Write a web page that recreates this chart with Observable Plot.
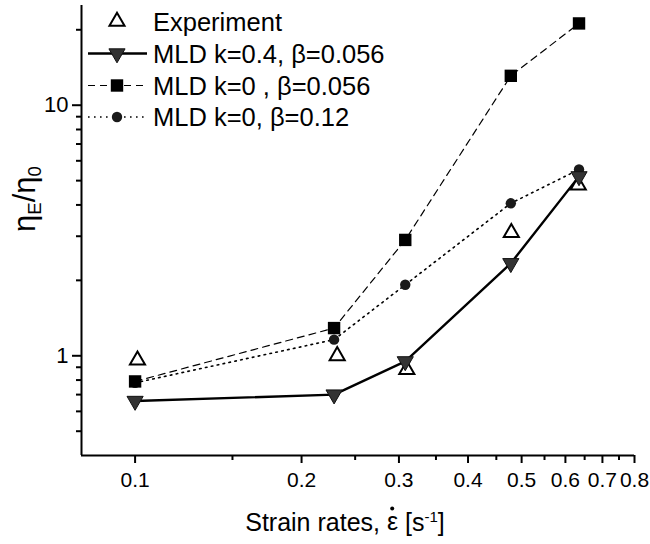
<!DOCTYPE html>
<html><head><meta charset="utf-8">
<script src="https://cdn.jsdelivr.net/npm/d3@7"></script>
<script src="https://cdn.jsdelivr.net/npm/@observablehq/plot@0.6"></script>
<style>
body{margin:0;background:#fff;}
#wrap{position:relative;width:650px;height:544px;font-family:"Liberation Sans",Arial,sans-serif;color:#000;overflow:hidden;}
#ylabel{position:absolute;left:27px;top:199px;transform:translate(-50%,-50%) rotate(-90deg);font-size:31px;white-space:nowrap;line-height:1;}
#ylabel sub{font-size:0.6em;vertical-align:-0.35em;}
#xlabel{position:absolute;left:345px;top:522px;transform:translate(-50%,-50%);font-size:25px;white-space:nowrap;line-height:1;}
#xlabel sup{font-size:0.6em;vertical-align:0.55em;}
.edot{position:relative;display:inline-block;}
.edot::after{content:"";position:absolute;left:50%;top:-0.12em;width:4px;height:4px;margin-left:-2px;border-radius:50%;background:#000;}
#legend{position:absolute;left:0;top:0;}
</style></head>
<body>
<div id="wrap">
  <div id="chart"></div>
  <div id="ylabel">η<sub>E</sub>/η<sub>0</sub></div>
  <div id="xlabel">Strain rates, <span class="edot">ε</span> [s<sup>-1</sup>]</div>
  <svg id="legend" width="650" height="140"></svg>
</div>
<script>
// ---- data ----
const rates      = [0.1, 0.229, 0.308, 0.478, 0.635];
const expRates   = [0.101, 0.232, 0.31, 0.479, 0.633];
const experiment = [0.96, 1.0, 0.88, 3.1, 4.8];
const mldK04     = [0.66, 0.70, 0.95, 2.34, 5.2];
const mldK0b056  = [0.79, 1.29, 2.9, 13.1, 21.2];
const mldK0b012  = [0.78, 1.16, 1.92, 4.06, 5.54];

const xMajor = [0.1, 0.2, 0.3, 0.4, 0.5, 0.6, 0.7, 0.8];
const xMinor = [0.15, 0.25, 0.35, 0.45, 0.55, 0.65, 0.75];
const yMajor = [1, 10];
const yMinor = [0.5, 0.6, 0.7, 0.8, 0.9, 2, 3, 4, 5, 6, 7, 8, 9, 20];

const legendLabels = ["Experiment", "MLD k=0.4, β=0.056", "MLD k=0 , β=0.056", "MLD k=0, β=0.12"];

const rows = (xs, ys) => xs.map((x, i) => ({x, y: ys[i]}));
const dExp = rows(expRates, experiment);
const dK04 = rows(rates, mldK04);
const dB056 = rows(rates, mldK0b056);
const dB012 = rows(rates, mldK0b012);

const chart = Plot.plot({
  width: 650,
  height: 544,
  marginLeft: 81,
  marginRight: 16,
  marginTop: 5,
  marginBottom: 89,
  style: {fontFamily: "'Liberation Sans', Arial, sans-serif", fontSize: "21px", color: "#000", background: "#fff"},
  x: {type: "log", domain: [0.08, 0.8], label: null},
  y: {type: "log", domain: [0.4, 25], label: null},
  marks: [
    Plot.axisX({ticks: xMinor, tickSize: 5, strokeWidth: 2, tickFormat: () => "", label: null}),
    Plot.axisX({ticks: xMajor, tickSize: 8, strokeWidth: 2, tickPadding: 9, tickFormat: d => String(d), fontSize: 21, label: null}),
    Plot.axisY({ticks: yMinor, tickSize: 5, strokeWidth: 2, tickFormat: () => "", label: null}),
    Plot.axisY({ticks: yMajor, tickSize: 9, strokeWidth: 2, tickPadding: 4, tickFormat: d => String(d), fontSize: 22, label: null}),
    Plot.ruleX([0.08], {stroke: "#000", strokeWidth: 2}),
    Plot.ruleY([0.4], {stroke: "#000", strokeWidth: 2}),
    Plot.line(dB056, {x: "x", y: "y", stroke: "#000", strokeWidth: 1.2, strokeDasharray: "7,5"}),
    Plot.line(dB012, {x: "x", y: "y", stroke: "#000", strokeWidth: 1.6, strokeDasharray: "1.6,4.4"}),
    Plot.line(dK04, {x: "x", y: "y", stroke: "#000", strokeWidth: 2.4}),
    Plot.dot(dExp, {x: "x", y: "y", symbol: "triangle", r: 5.6, fill: "#fff", stroke: "#000", strokeWidth: 2}),
    Plot.dot(dB012, {x: "x", y: "y", symbol: "circle", r: 5.2, fill: "#1a1a1a", stroke: "none"}),
    Plot.dot(dB056, {x: "x", y: "y", symbol: "square", r: 7, fill: "#000", stroke: "none"}),
    Plot.dot(dK04, {x: "x", y: "y", symbol: "triangle", rotate: 180, r: 6, fill: "#333", stroke: "#111", strokeWidth: 1})
  ]
});
document.getElementById("chart").appendChild(chart);

// ---- legend (inside plot, top-left) ----
const lg = d3.select("#legend");
const rowY = [21.5, 53.5, 85.5, 117];
const symX = 117, lineX0 = 88, lineX1 = 147, textX = 153;
const styles = [
  {line: null, sym: "up"},
  {line: {w: 2.4, dash: null}, sym: "down"},
  {line: {w: 1.2, dash: "7,5"}, sym: "square"},
  {line: {w: 1.6, dash: "1.6,4.4"}, sym: "circle"}
];
legendLabels.forEach((lab, i) => {
  const y = rowY[i], s = styles[i];
  if (s.line) {
    lg.append("line").attr("x1", lineX0).attr("x2", lineX1).attr("y1", y).attr("y2", y)
      .attr("stroke", "#000").attr("stroke-width", s.line.w)
      .attr("stroke-dasharray", s.line.dash);
  }
  const g = lg.append("g").attr("transform", `translate(${symX},${y})`);
  if (s.sym === "up") {
    g.append("path").attr("d", d3.symbol(d3.symbolTriangle, Math.PI * 5.6 * 5.6)())
      .attr("fill", "#fff").attr("stroke", "#000").attr("stroke-width", 2);
  } else if (s.sym === "down") {
    g.append("path").attr("d", d3.symbol(d3.symbolTriangle, Math.PI * 6 * 6)())
      .attr("transform", "rotate(180)").attr("fill", "#333").attr("stroke", "#111").attr("stroke-width", 1);
  } else if (s.sym === "square") {
    g.append("path").attr("d", d3.symbol(d3.symbolSquare, Math.PI * 7 * 7)()).attr("fill", "#000");
  } else {
    g.append("path").attr("d", d3.symbol(d3.symbolCircle, Math.PI * 5.2 * 5.2)()).attr("fill", "#1a1a1a");
  }
  lg.append("text").attr("x", textX).attr("y", y).attr("dy", "0.36em")
    .attr("font-family", "'Liberation Sans', Arial, sans-serif").attr("font-size", 25.5)
    .attr("fill", "#000").text(lab);
});
</script>
</body></html>
